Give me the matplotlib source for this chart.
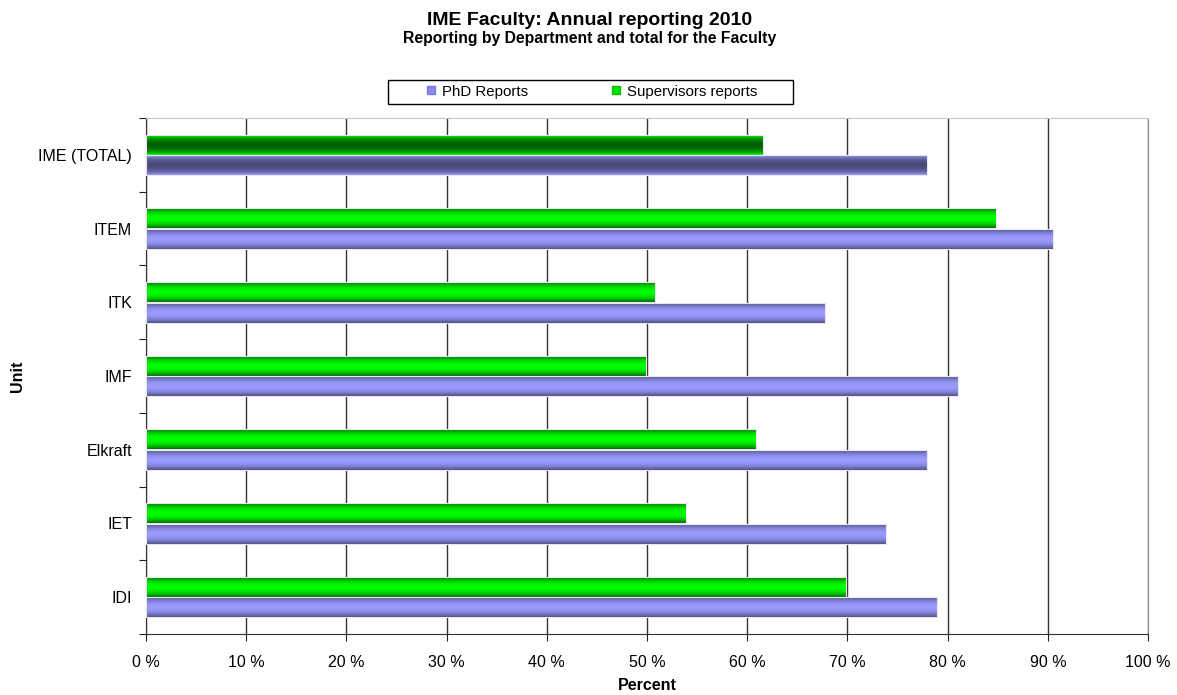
"""IME Faculty annual reporting 2010 - horizontal bar chart."""

import matplotlib
matplotlib.use("Agg")
import matplotlib.pyplot as plt
import numpy as np
from matplotlib.colors import LinearSegmentedColormap
from matplotlib.lines import Line2D
from matplotlib.patches import Rectangle

plt.rcParams["font.family"] = ["Liberation Sans", "DejaVu Sans"]

units = ["IDI", "IET", "Elkraft", "IMF", "ITK", "ITEM", "IME (TOTAL)"]
phd_reports = [78.9, 73.9, 77.9, 81.0, 67.8, 90.5, 77.9]
supervisor_reports = [69.9, 53.9, 60.9, 49.9, 50.8, 84.8, 61.6]
x_ticks = list(range(0, 101, 10))

BAR_H = 0.27

purple_cmap = LinearSegmentedColormap.from_list("purple", ["#4a4a7a", "#9a9aff"])
green_cmap = LinearSegmentedColormap.from_list("green", ["#006000", "#00ff00"])


def shading(n=40, dark_center=False):
    t = np.linspace(0, 1, n)
    v = np.sin(np.pi * t) ** 0.7
    if dark_center:
        v = 1 - v
    return v.reshape(-1, 1)


def gradient_bar(ax, y, value, cmap, dark_center=False):
    patch = ax.barh(y, value, height=BAR_H, color="none",
                    edgecolor="#e8e8f0", linewidth=0.8, zorder=3)[0]
    img = ax.imshow(shading(dark_center=dark_center), cmap=cmap, vmin=0, vmax=1,
                    extent=(0, value, y - BAR_H / 2, y + BAR_H / 2),
                    origin="upper", aspect="auto", interpolation="bilinear",
                    zorder=2)
    img.set_clip_path(patch)


fig = plt.figure(figsize=(11.77, 6.95), dpi=100)
ax = fig.add_axes([0.124, 0.088, 0.8514, 0.742])

for i, unit in enumerate(units):
    top_row = i == len(units) - 1
    gradient_bar(ax, i + BAR_H / 2 + 0.005, supervisor_reports[i], green_cmap, top_row)
    gradient_bar(ax, i - BAR_H / 2 - 0.005, phd_reports[i], purple_cmap, top_row)

ax.set_xlim(0, 100)
ax.set_ylim(-0.5, len(units) - 0.5)

ax.set_xticks(x_ticks)
ax.set_xticklabels([f"{t} %" for t in x_ticks], fontsize=11.5)
ax.set_yticks(np.arange(-0.5, len(units), 1))
ax.set_yticklabels([])
ax.set_yticks(range(len(units)), minor=True)
ax.set_yticklabels(units, minor=True, fontsize=11.5)
ax.tick_params(axis="y", which="minor", length=0, pad=10)
ax.tick_params(axis="both", which="major", length=5, color="#222222", pad=10)

ax.set_axisbelow(True)
ax.grid(axis="x", color="#333333", linewidth=1)
ax.spines["top"].set_color("#c8c8c8")
ax.spines["right"].set_color("#909090")
ax.spines["left"].set_color("#333333")
ax.spines["bottom"].set_color("#333333")

ax.set_xlabel("Percent", fontsize=11.5, fontweight="bold", labelpad=6)
fig.text(0.0145, 0.458, "Unit", rotation=90, fontsize=11.5, fontweight="bold",
         ha="center", va="center")

fig.text(0.501, 0.971, "IME Faculty: Annual reporting 2010", fontsize=14,
         fontweight="bold", ha="center", va="center")
fig.text(0.501, 0.944, "Reporting by Department and total for the Faculty",
         fontsize=11.3, fontweight="bold", ha="center", va="center")

fig.patches.append(Rectangle((0.3297, 0.8504), 0.3441, 0.0345,
                             transform=fig.transFigure, facecolor="white",
                             edgecolor="black", linewidth=1))

handles = [
    Line2D([], [], marker="s", linestyle="none", markersize=6,
           markerfacecolor="#8888ee", markeredgecolor="#7c7cd8", label="PhD Reports"),
    Line2D([], [], marker="s", linestyle="none", markersize=6,
           markerfacecolor="#00e000", markeredgecolor="#00c000", label="Supervisors reports"),
]
fig.legend(handles=handles, loc="center", bbox_to_anchor=(0.5025, 0.868),
           ncol=2, fontsize=10.8, frameon=False, handlelength=0.7,
           handletextpad=0.4, columnspacing=5.5, borderpad=0, borderaxespad=0)

fig.savefig("out.png", dpi=100)
